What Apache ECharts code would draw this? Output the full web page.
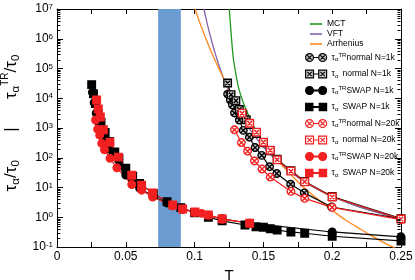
<!DOCTYPE html>
<html><head><meta charset="utf-8">
<script src="https://cdn.jsdelivr.net/npm/echarts@6/dist/echarts.min.js"></script>
<style>html,body{margin:0;padding:0;background:#fff}#c{width:415px;height:280px}</style>
</head><body><div id="c"></div>
<script>
// ---- data ----
const mctT = [0.1252, 0.1265, 0.128, 0.1295, 0.132, 0.1354, 0.14, 0.1439, 0.15, 0.16, 0.17, 0.18, 0.19, 0.20, 0.22, 0.25];
const mctV = [1e7, 1.6e6, 2.5e5, 8.9e4, 2.24e4, 7080, 2240, 933, 282, 83, 33.9, 15.8, 8.5, 5.0, 2.24, 0.89];
const vftT = [0.1068, 0.108, 0.110, 0.112, 0.115, 0.118, 0.121, 0.125, 0.13, 0.135, 0.14, 0.15, 0.16, 0.17, 0.18, 0.19, 0.20, 0.22, 0.25];
const vftV = [1e7, 5.5e6, 2.24e6, 9.8e5, 3.16e5, 1.17e5, 4.8e4, 1.7e4, 5500, 2090, 912, 229, 77.6, 32.4, 15.5, 8.5, 5.0, 2.19, 0.87];
const arrT = [0.1003, 0.105, 0.11, 0.115, 0.12, 0.125, 0.13, 0.135, 0.14, 0.15, 0.16, 0.17, 0.18, 0.19, 0.20, 0.21, 0.22, 0.23, 0.24, 0.25];
const arrV = [1e7, 2.45e6, 6.3e5, 1.82e5, 5.9e4, 2.04e4, 7760, 3240, 1410, 316, 85, 26.9, 9.5, 3.9, 1.7, 0.79, 0.41, 0.22, 0.123, 0.074];

const nTR1kT = [0.124, 0.126, 0.1275, 0.129, 0.1325, 0.1354, 0.1398, 0.144, 0.1488, 0.1545, 0.1597, 0.1698, 0.1797, 0.1996, 0.25];
const nTR1kV = [13800, 8700, 6000, 3200, 1860, 830, 490, 220, 120, 50, 29.5, 12.9, 6.6, 2.2, 0.89];
const n1kT = [0.124, 0.1265, 0.13, 0.1325, 0.135, 0.1375, 0.14, 0.145, 0.15, 0.155, 0.16, 0.17, 0.18, 0.20, 0.25];
const n1kV = [32400, 13200, 8300, 4200, 2800, 1900, 1300, 650, 320, 170, 90, 37, 16, 5.0, 0.9];
const sTR1kT = [0.0257, 0.027, 0.0285, 0.030, 0.032, 0.034, 0.037, 0.040, 0.045, 0.050, 0.055, 0.060, 0.070, 0.080, 0.090, 0.100, 0.110, 0.120, 0.140, 0.200, 0.250];
const sTR1kV = [15800, 7100, 3160, 1580, 794, 398, 200, 112, 52.5, 26.3, 15.1, 9.55, 5.0, 3.02, 2.0, 1.45, 1.12, 0.89, 0.63, 0.32, 0.22];
const s1kT = [0.0252, 0.0265, 0.028, 0.030, 0.032, 0.035, 0.038, 0.042, 0.045, 0.050, 0.055, 0.060, 0.070, 0.080, 0.090, 0.100, 0.110, 0.120, 0.1366, 0.1446, 0.150, 0.155, 0.160, 0.170, 0.180, 0.200, 0.250];
const s1kV = [28800, 14100, 6600, 3160, 1580, 708, 355, 158, 95.5, 44.7, 24, 13.8, 6.3, 3.3, 2.1, 1.41, 1.0, 0.76, 0.55, 0.48, 0.46, 0.41, 0.37, 0.32, 0.29, 0.23, 0.16];
const nTR20kT = [0.129, 0.134, 0.1385, 0.1435, 0.149, 0.155, 0.17, 0.18, 0.20, 0.25];
const nTR20kV = [870, 324, 166, 78, 41.7, 22.4, 7.4, 4.3, 2.14, 0.83];
const n20kT = [0.1345, 0.14, 0.145, 0.15, 0.155, 0.16, 0.17, 0.18, 0.20, 0.25];
const n20kV = [3160, 1450, 724, 331, 178, 85, 35.5, 15.5, 4.8, 0.87];
const sTR20kT = [0.028, 0.0295, 0.031, 0.0325, 0.0345, 0.0385, 0.0435, 0.0543, 0.0615, 0.0695, 0.0841, 0.0913, 0.1003, 0.1052, 0.11, 0.12, 0.14];
const sTR20kV = [1860, 912, 575, 302, 186, 95.5, 45.7, 12.6, 8.1, 4.8, 2.4, 1.82, 1.45, 1.35, 1.17, 0.85, 0.63];
const s20kT = [0.0288, 0.030, 0.0315, 0.0337, 0.0385, 0.0446, 0.0543, 0.0615, 0.0695, 0.0841, 0.0913, 0.1003, 0.11, 0.12, 0.14];
const s20kV = [8700, 4370, 2340, 870, 331, 105, 25.7, 12.0, 6.6, 2.57, 1.9, 1.51, 1.2, 0.89, 0.63];

const bandRange = [0.0735, 0.09];
const yRange = [0.1, 1e7];
// minor log tick values (2..9 × 10^e)
const yMinorTicks = [];
for (let e = -1; e < 7; e++) for (let k = 2; k <= 9; k++) yMinorTicks.push(+(k * Math.pow(10, e)).toPrecision(3));

// ---- chart ----
const FONT = 'Liberation Sans, Arial, sans-serif';
const zip = (a, b) => a.map((t, i) => [t, b[i]]);
const CIRCX = 'path://M10,0A10,10,0,1,1,10,20A10,10,0,1,1,10,0ZM3.5,3.5L16.5,16.5M16.5,3.5L3.5,16.5';
const SQX = 'path://M0,0H20V20H0ZM4,4L16,16M16,4L4,16';
const RED = '#f22020';
const GREEN = '#1f9a1f', PURPLE = '#8460a8', ORANGE = '#ff8a1e';

// legend icons: symbol - line - symbol
const IC_CX = 'path://M1,10A9,9,0,1,1,19,10A9,9,0,1,1,1,10ZM5,5L15,15M15,5L5,15M19,10L31,10M31,10A9,9,0,1,1,49,10A9,9,0,1,1,31,10ZM35,5L45,15M45,5L35,15';
const IC_SX = 'path://M1,1H19V19H1ZM5,5L15,15M15,5L5,15M19,10L31,10M31,1H49V19H31ZM35,5L45,15M45,5L35,15';
const IC_C = 'path://M1,10A9,9,0,1,1,19,10A9,9,0,1,1,1,10ZM19,9H31V11H19ZM31,10A9,9,0,1,1,49,10A9,9,0,1,1,31,10Z';
const IC_S = 'path://M2,2H18V18H2ZM18,9H32V11H18ZM32,2H48V18H32Z';

function curve(name, t, v, color) {
  return {name, type: 'line', data: zip(t, v), symbol: 'none', smooth: 0.3,
    lineStyle: {color, width: 1.3}, itemStyle: {color}, z: 2, silent: true};
}
function pts(name, t, v, symbol, lineColor, fill, border, size) {
  return {name, type: 'line', data: zip(t, v), symbol, symbolSize: size,
    lineStyle: {color: lineColor, width: 1.2},
    itemStyle: {color: fill, borderColor: border, borderWidth: 1.4}, z: 3, silent: true};
}

const arrSeries = curve('Arrhenius', arrT, arrV, ORANGE);
arrSeries.markArea = {silent: true, itemStyle: {color: '#6b9bd1', opacity: 1},
  data: [[{xAxis: bandRange[0]}, {xAxis: bandRange[1]}]]};

const legendText = {
  'nTR1k': 'τ{sb|α}{sp|TR}normal N=1k',
  'n1k': 'τ{sb|α} {sp| }normal N=1k',
  'sTR1k': 'τ{sb|α}{sp|TR}SWAP N=1k',
  's1k': 'τ{sb|α} {sp| }SWAP N=1k',
  'nTR20k': 'τ{sb|α}{sp|TR}normal N=20k',
  'n20k': 'τ{sb|α} {sp| }normal N=20k',
  'sTR20k': 'τ{sb|α}{sp|TR}SWAP N=20k',
  's20k': 'τ{sb|α} {sp| }SWAP N=20k'
};
const legendIcons = {nTR1k: IC_CX, n1k: IC_SX, sTR1k: IC_C, s1k: IC_S, nTR20k: IC_CX, n20k: IC_SX, sTR20k: IC_C, s20k: IC_S};
const richSmall = {
  sb: {fontSize: 6, verticalAlign: 'bottom', lineHeight: 7, fontFamily: FONT, color: '#000'},
  sp: {fontSize: 6, verticalAlign: 'top', lineHeight: 7, fontFamily: FONT, color: '#000'}
};

const tickStyle = {lineStyle: {color: '#000', width: 1}};

const minorTickSeries = {
  type: 'custom', name: '_minor', silent: true, z: 10, clip: false,
  data: yMinorTicks.map(v => [0, v]),
  renderItem: (params, api) => {
    const y = Math.round(api.coord([0, api.value(1)])[1]) + 0.5;
    const cs = params.coordSys;
    const l = Math.round(cs.x) + 0.5, r = Math.round(cs.x + cs.width) - 0.5;
    return {type: 'group', children: [
      {type: 'line', shape: {x1: l, y1: y, x2: l + 3, y2: y}, style: {stroke: '#000', lineWidth: 1}},
      {type: 'line', shape: {x1: r - 3, y1: y, x2: r, y2: y}, style: {stroke: '#000', lineWidth: 1}}
    ]};
  }
};

const option = {
  animation: false,
  grid: {left: 57, right: 14, top: 9, bottom: 33, containLabel: false, outerBoundsMode: 'none'},
  legend: [
    {data: ['MCT', 'VFT', 'Arrhenius'], icon: 'rect',
     orient: 'vertical', left: 305, top: 14,
     itemWidth: 12, itemHeight: 1.6, itemGap: 0, itemTextGap: 8, selectedMode: false,
     itemStyle: {borderWidth: 0},
     textStyle: {fontSize: 8.5, fontFamily: FONT, color: '#000', lineHeight: 10}},
    {data: Object.keys(legendText).map(n => ({name: n, icon: legendIcons[n]})), orient: 'vertical', left: 300, top: 47.5,
     itemWidth: 21, itemHeight: 8, itemGap: 6.5, itemTextGap: 3, selectedMode: false,
     itemStyle: {borderWidth: 1.2},
     formatter: n => legendText[n],
     textStyle: {fontSize: 8.5, fontFamily: FONT, color: '#000', lineHeight: 10, rich: richSmall}}
  ],
  xAxis: [
    {type: 'value', min: 0, max: 0.25, interval: 0.025, position: 'bottom',
     axisLine: {onZero: false, lineStyle: {color: '#000', width: 1}}, axisTick: Object.assign({inside: true, length: 5}, tickStyle),
     splitLine: {show: false},
     axisLabel: {fontSize: 12, fontFamily: FONT, color: '#000', margin: 4,
       formatter: v => { const k = Math.round(v * 1000); if (k % 50) return ''; return k === 0 ? '0' : String(k / 1000); }},
     name: 'T', nameLocation: 'middle', nameGap: 18, nameTextStyle: {fontSize: 15, fontFamily: FONT, color: '#000'}},
    {type: 'value', min: 0, max: 0.25, interval: 0.025, position: 'top',
     axisLine: {onZero: false, lineStyle: {color: '#000', width: 1}}, axisTick: Object.assign({inside: true, length: 5}, tickStyle),
     splitLine: {show: false}, axisLabel: {show: false}}
  ],
  yAxis: [
    {type: 'log', logBase: 10, min: yRange[0], max: yRange[1], interval: 1, position: 'left',
     axisLine: {show: true, onZero: false, lineStyle: {color: '#000', width: 1}}, axisTick: Object.assign({inside: true, length: 6}, tickStyle),
     splitLine: {show: false}, minorTick: {show: false},
     axisLabel: {fontSize: 12, fontFamily: FONT, color: '#000', margin: 4,
       formatter: v => '10{s|' + Math.round(Math.log10(v)) + '}',
       rich: {s: {fontSize: 8, verticalAlign: 'top', lineHeight: 8, fontFamily: FONT, color: '#000'}}},
     name: '{t|τ}{b|α}{t|/τ}{b|0}{t|      |      τ}{b|α}{p|TR}{t|/τ}{b|0}',
     nameLocation: 'middle', nameRotate: 90, nameGap: 27,
     nameTextStyle: {fontFamily: FONT, color: '#000', padding: [0, 0, 0, 10], rich: {
       t: {fontSize: 17, lineHeight: 21, fontFamily: FONT, color: '#000'},
       b: {fontSize: 11.5, verticalAlign: 'bottom', lineHeight: 11, fontFamily: FONT, color: '#000'},
       p: {fontSize: 10, verticalAlign: 'top', lineHeight: 10, fontFamily: FONT, color: '#000'}}}},
    {type: 'log', logBase: 10, min: yRange[0], max: yRange[1], interval: 1, position: 'right',
     axisLine: {show: true, onZero: false, lineStyle: {color: '#000', width: 1}}, axisTick: Object.assign({inside: true, length: 6}, tickStyle),
     splitLine: {show: false}, axisLabel: {show: false}}
  ],
  series: [
    curve('MCT', mctT, mctV, GREEN),
    curve('VFT', vftT, vftV, PURPLE),
    arrSeries,
    pts('nTR1k', nTR1kT, nTR1kV, CIRCX, '#000', '#c8c8c8', '#000', 7.5),
    pts('n1k', n1kT, n1kV, SQX, '#000', '#c8c8c8', '#000', 7.5),
    pts('sTR1k', sTR1kT, sTR1kV, 'circle', '#000', '#000', '#000', 7.5),
    pts('s1k', s1kT, s1kV, 'rect', '#000', '#000', '#000', 7.5),
    pts('nTR20k', nTR20kT, nTR20kV, CIRCX, RED, '#fff', RED, 7.5),
    pts('n20k', n20kT, n20kV, SQX, RED, '#fff', RED, 7.5),
    pts('sTR20k', sTR20kT, sTR20kV, 'circle', RED, RED, RED, 7.5),
    pts('s20k', s20kT, s20kV, 'rect', RED, RED, RED, 7.5),
    minorTickSeries
  ]
};
const chart = echarts.init(document.getElementById('c'), null, {renderer: 'canvas'});
chart.setOption(option);
</script>
</body></html>
